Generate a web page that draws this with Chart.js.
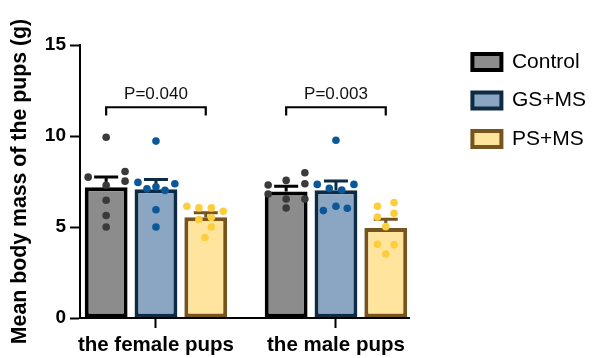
<!DOCTYPE html>
<html><head><meta charset="utf-8">
<script src="https://cdn.jsdelivr.net/npm/chart.js@4.4.1/dist/chart.umd.min.js"></script>
<style>html,body{margin:0;padding:0;background:#fff}#wrap{width:596px;height:358px}</style>
</head><body><div id="wrap"><canvas id="c"></canvas></div>
<script>
const categories = ['the female pups', 'the male pups'];
const groups = ['Control', 'GS+MS', 'PS+MS'];
const yTicks = [0, 5, 10, 15];

const meanControl = [7.18, 6.95];
const meanGS = [7.07, 7.02];
const meanPS = [5.54, 4.94];
const semControl = [0.57, 0.29];
const semGS = [0.54, 0.51];
const semPS = [0.24, 0.49];

// individual pups (values) and their horizontal jitter within the bar (category units)
const ptsControl = [[9.93, 7.74, 8.05, 7.52, 7.29, 6.47, 5.63, 5.00], [7.98, 7.31, 7.56, 7.38, 6.81, 6.54, 6.54, 6.04]];
const jitControl = [[0, -0.10, 0.105, 0.105, 0, 0, 0, 0], [0.104, -0.10, 0, 0.104, -0.10, 0, 0.104, 0]];
const ptsGS = [[9.72, 7.45, 7.38, 7.10, 7.21, 7.01, 5.95, 5.00], [9.77, 7.34, 7.34, 7.12, 7.03, 5.90, 6.14, 6.03]];
const jitGS = [[0, -0.10, 0.105, -0.05, 0, 0.05, 0, 0], [0, -0.104, 0.10, -0.037, 0.032, -0.07, 0, 0.063]];
const ptsPS = [[6.14, 6.05, 6.05, 5.86, 5.41, 5.52, 5.00, 4.42], [6.14, 6.34, 5.55, 5.75, 5.02, 4.05, 4.02, 3.52]];
const jitPS = [[-0.105, -0.038, 0.031, 0.097, -0.038, 0.031, 0.031, -0.005], [-0.046, 0.046, -0.046, 0.046, 0, -0.046, 0.046, 0]];

const pLabels = ['P=0.040', 'P=0.003'];

const FONT = '"Liberation Sans", Arial, Helvetica, sans-serif';
const CAT_PCT = 0.83;
const BAR_PCT = 0.86;
const X_MIN = 0.578, X_AXIS_END = 2.411, PX_PER_CAT = 180;
const LEG = { boxW: 29, boxH: 16, pad: 17.5, size: 21 };
const fills = ['#8c8c8c', '#8aa6c2', '#ffe49e'];
const borders = ['#000000', '#0e2b45', '#765420'];
const dotColors = ['#3a3a3a', '#0b5898', '#fccd3c'];

const means = [meanControl, meanGS, meanPS];
const sems = [semControl, semGS, semPS];
const pts = [ptsControl, ptsGS, ptsPS];
const jits = [jitControl, jitGS, jitPS];

// width the legend will take, so the plotting range keeps its scale
const mctx = document.createElement('canvas').getContext('2d');
mctx.font = LEG.size + 'px ' + FONT;
const maxTextW = Math.max(...groups.map(g => mctx.measureText(g).width));
const legendW = LEG.pad + LEG.boxW + LEG.size / 2 + maxTextW + 10;
const Y_AXIS_W = 80;
const X_MAX = X_MIN + (596 - Y_AXIS_W - legendW) / PX_PER_CAT;

const barSets = groups.map((g, gi) => ({
  type: 'bar', label: g, order: 2,
  data: categories.map((c, ci) => ({ x: ci + 1, y: means[gi][ci] })),
  sem: sems[gi],
  backgroundColor: fills[gi], borderColor: borders[gi], borderWidth: 4,
  borderSkipped: false, barPercentage: BAR_PCT, categoryPercentage: CAT_PCT,
  yAxisID: 'y', xAxisID: 'x'
}));
const dotSets = groups.map((g, gi) => {
  const off = (gi - 1) * CAT_PCT / 3;
  const data = [];
  categories.forEach((c, ci) => pts[gi][ci].forEach((v, k) => data.push({ x: ci + 1 + off + jits[gi][ci][k], y: v })));
  return { type: 'scatter', label: g + ' pups', order: 0, data,
    pointRadius: 3.8, pointHoverRadius: 3.8, pointBorderWidth: 0,
    backgroundColor: dotColors[gi], borderColor: dotColors[gi], yAxisID: 'y', xAxisID: 'x' };
});

const errorBars = {
  id: 'errorBars',
  afterDatasetDraw(chart, args) {
    const ds = chart.data.datasets[args.index];
    if (!ds.sem) return;
    const ctx = chart.ctx, y = chart.scales.y;
    ctx.save();
    ctx.strokeStyle = ds.borderColor; ctx.lineWidth = 3; ctx.lineCap = 'butt';
    args.meta.data.forEach((bar, i) => {
      const top = y.getPixelForValue(ds.data[i].y + ds.sem[i]);
      const half = bar.width * 0.28;
      ctx.beginPath();
      ctx.moveTo(bar.x, bar.y); ctx.lineTo(bar.x, top);
      ctx.moveTo(bar.x - half, top); ctx.lineTo(bar.x + half, top);
      ctx.stroke();
    });
    ctx.restore();
  }
};
const xAxisLine = {
  id: 'xAxisLine',
  afterDatasetsDraw(chart) {
    const ctx = chart.ctx, x = chart.scales.x, a = chart.chartArea;
    ctx.save();
    ctx.strokeStyle = '#000'; ctx.lineWidth = 2;
    ctx.beginPath();
    ctx.moveTo(a.left - 1, a.bottom); ctx.lineTo(x.getPixelForValue(X_AXIS_END), a.bottom);
    ctx.stroke();
    ctx.restore();
  }
};
const brackets = {
  id: 'brackets',
  afterDraw(chart) {
    const ctx = chart.ctx, y = chart.scales.y;
    const m0 = chart.getDatasetMeta(0), m2 = chart.getDatasetMeta(2);
    ctx.save();
    ctx.strokeStyle = '#000'; ctx.lineWidth = 2.2;
    ctx.fillStyle = '#111'; ctx.font = '17px ' + FONT; ctx.textAlign = 'center'; ctx.textBaseline = 'alphabetic';
    categories.forEach((c, i) => {
      const xa = m0.data[i].x, xb = m2.data[i].x;
      const yl = y.getPixelForValue(11.58), yd = y.getPixelForValue(11.12);
      ctx.beginPath();
      ctx.moveTo(xa, yd); ctx.lineTo(xa, yl); ctx.lineTo(xb, yl); ctx.lineTo(xb, yd);
      ctx.stroke();
      ctx.fillText(pLabels[i], (xa + xb) / 2, y.getPixelForValue(12.05));
    });
    ctx.restore();
  }
};

new Chart(document.getElementById('c'), {
  data: { datasets: [...barSets, ...dotSets] },
  options: {
    responsive: true, maintainAspectRatio: false, animation: false,
    layout: { padding: { top: 34, right: 0, bottom: 0, left: 0 } },
    plugins: {
      tooltip: { enabled: false },
      legend: {
        display: true, position: 'right', align: 'start',
        labels: {
          filter: (item) => item.datasetIndex < 3,
          boxWidth: LEG.boxW, boxHeight: LEG.boxH, padding: LEG.pad,
          font: { family: FONT, size: LEG.size }, color: '#000'
        }
      }
    },
    scales: {
      x: {
        type: 'linear', position: 'bottom', min: X_MIN, max: X_MAX, offset: false,
        afterBuildTicks: (s) => { s.ticks = categories.map((c, i) => ({ value: i + 1 })); },
        ticks: { callback: (v, i) => categories[i], font: { family: FONT, size: 20.5, weight: 'bold' }, color: '#000', padding: 5, maxRotation: 0, autoSkip: false },
        grid: { offset: false, drawOnChartArea: false, tickLength: 10, tickWidth: 2, tickColor: '#000' },
        border: { display: false },
        afterFit: (s) => { s.height = 40; }
      },
      gapTop: {
        type: 'linear', position: 'top', display: true,
        ticks: { display: false }, grid: { display: false }, border: { display: false },
        afterFit: (s) => { s.height = 11; }
      },
      y: {
        type: 'linear', position: 'left', min: 0, max: 15,
        afterBuildTicks: (s) => { s.ticks = yTicks.map(v => ({ value: v })); },
        ticks: { font: { family: FONT, size: 19, weight: 'bold' }, color: '#000', padding: 4 },
        grid: { drawOnChartArea: false, tickLength: 10, tickWidth: 2, tickColor: '#000' },
        border: { color: '#000', width: 2 },
        title: { display: true, text: 'Mean body mass of the pups (g)', font: { family: FONT, size: 21.3, weight: 'bold' }, color: '#000', padding: { top: 7, bottom: 0 } },
        afterFit: (s) => { s.width = Y_AXIS_W; }
      }
    }
  },
  plugins: [errorBars, xAxisLine, brackets]
});
</script></body></html>
